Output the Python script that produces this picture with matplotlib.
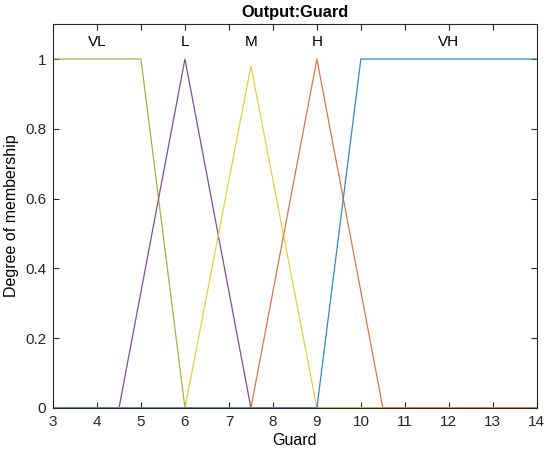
import matplotlib

matplotlib.use("Agg")
import matplotlib.pyplot as plt

plt.rcParams["font.family"] = ["Liberation Sans", "DejaVu Sans"]

# membership functions of output "Guard": breakpoints (x, degree)
mf_names = ["VL", "L", "M", "H", "VH"]
mf_x = [
    [3, 5, 6, 14],
    [3, 4.5, 6, 7.5, 14],
    [3, 6, 7.5, 9, 14],
    [3, 7.5, 9, 10.5, 14],
    [3, 9, 10, 14],
]
mf_y = [
    [1, 1, 0, 0],
    [0, 0, 1, 0, 0],
    [0, 0, 0.98, 0, 0],
    [0, 0, 1, 0, 0],
    [0, 0, 1, 1],
]
label_x = [4.0, 6.0, 7.5, 9.0, 12.0]
colors = ["#a8b04a", "#7e4f96", "#e3cf4a", "#d9774a", "#3a86c8"]

fig = plt.figure(figsize=(5.5, 4.55), dpi=100)
ax = fig.add_axes([0.0964, 0.1033, 0.8796, 0.8437])

for xs, ys, c in zip(mf_x, mf_y, colors):
    ax.plot(xs, ys, color=c, lw=0.9)
for name, lx in zip(mf_names, label_x):
    ax.text(lx, 1.05, name, ha="center", va="center", fontsize=11)

ax.set_xlim(3, 14)
ax.set_ylim(0, 1.1)
ax.set_xticks(range(3, 15))
ax.set_yticks([0, 0.2, 0.4, 0.6, 0.8, 1])
ax.set_yticklabels(["0", "0.2", "0.4", "0.6", "0.8", "1"])
ax.tick_params(direction="in", top=True, right=True, labelsize=11, colors="#262626",
               length=4, pad=5)
for s in ax.spines.values():
    s.set_color("#262626")
    s.set_linewidth(0.8)
ax.set_xlabel("Guard", fontsize=11.5, labelpad=3)
ax.set_ylabel("Degree of membership", fontsize=11.5, labelpad=4)
ax.set_title("Output:Guard", fontsize=11.8, fontweight="bold", pad=5)

fig.savefig("out.png", dpi=100)
